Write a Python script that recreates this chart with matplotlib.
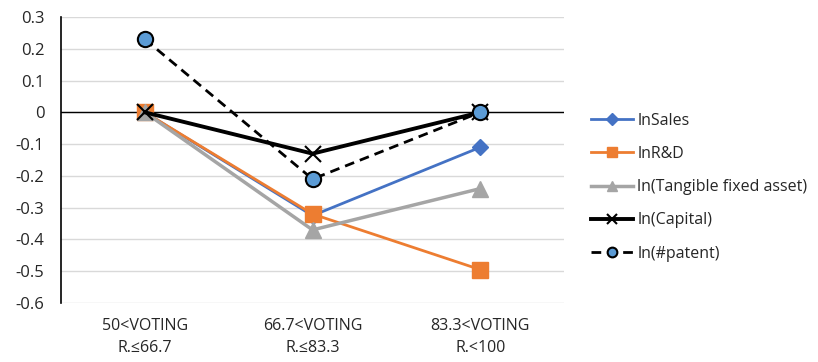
import matplotlib
matplotlib.use("Agg")
import matplotlib.pyplot as plt

plt.rcParams['font.family'] = ['Open Sans', 'DejaVu Sans']

categories = ["50<VOTING\nR.≤66.7", "66.7<VOTING\nR.≤83.3", "83.3<VOTING\nR.<100"]
ln_sales = [0.0, -0.325, -0.11]
ln_rd = [0.0, -0.32, -0.495]
ln_tangible = [0.0, -0.37, -0.24]
ln_capital = [0.0, -0.13, 0.0]
ln_patent = [0.23, -0.21, 0.0]
y_ticks = [0.3, 0.2, 0.1, 0.0, -0.1, -0.2, -0.3, -0.4, -0.5, -0.6]

text_color = "#262626"

fig = plt.figure(figsize=(8.18, 3.62), dpi=100)
ax = fig.add_axes([0.0746, 0.163, 0.615, 0.79])

x = list(range(len(categories)))

ax.plot(x, ln_sales, color="#4472C4", lw=2, marker="D", ms=8,
        label="lnSales", zorder=3)
ax.plot(x, ln_rd, color="#ED7D31", lw=2, marker="s", ms=12,
        label="lnR&D", zorder=3)
ax.plot(x, ln_tangible, color="#A5A5A5", lw=2.5, marker="^", ms=12,
        label="ln(Tangible fixed asset)", zorder=3)
ax.plot(x, ln_capital, color="black", lw=2.8, marker="x", ms=11, mew=1.5,
        label="ln(Capital)", zorder=4)
ax.plot(x, ln_patent, color="black", lw=2, ls=(0, (3.5, 2.2)), marker="o", ms=11,
        mfc="#5B9BD5", mec="black", mew=1.5, label="ln(#patent)", zorder=5)

ax.set_xlim(-0.5, 2.5)
ax.set_ylim(-0.6, 0.3)
ax.set_yticks(y_ticks)
ax.set_yticklabels([f"{v:g}" if v != 0 else "0" for v in y_ticks])
ax.set_xticks(x)
ax.set_xticklabels(categories, fontsize=11.5, linespacing=1.45)

ax.grid(axis="y", color="#D9D9D9", lw=1)
ax.set_axisbelow(True)
ax.axhline(0, color="black", lw=1, zorder=2)

for side in ["top", "right", "bottom"]:
    ax.spines[side].set_visible(False)
ax.spines["left"].set_color("black")
ax.spines["left"].set_linewidth(1.2)
ax.tick_params(axis="both", length=0, colors=text_color)
ax.tick_params(axis="y", labelsize=12, pad=12)
ax.tick_params(axis="x", pad=11)

leg = ax.legend(loc="center left", bbox_to_anchor=(1.025, 0.405), frameon=False,
                fontsize=11.5, labelspacing=1.08, handlelength=2.65,
                handletextpad=0.25, labelcolor=text_color)
for h, ms in zip(leg.legend_handles, [6, 7, 7, 7, 7]):
    h.set_markersize(ms)

fig.savefig("out.png", dpi=100)
